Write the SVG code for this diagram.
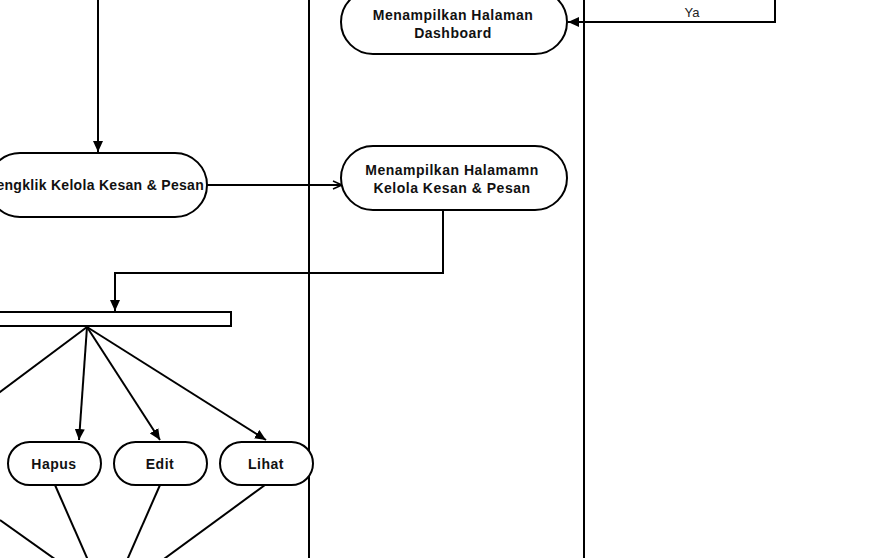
<svg xmlns="http://www.w3.org/2000/svg" width="894" height="558" viewBox="0 0 894 558">
<style>
.node{fill:#fff;stroke:#000;stroke-width:2}
.lane{stroke:#000;stroke-width:2;fill:none}
.edge{stroke:#000;stroke-width:2;fill:none}
.t{font-family:"Liberation Sans",Arial,sans-serif;font-weight:bold;font-size:14px;letter-spacing:0.5px;text-anchor:middle;fill:#111}
.lbl{font-family:"Liberation Sans",Arial,sans-serif;font-size:13px;text-anchor:middle;fill:#222}
</style>
<defs>
<marker id="arr" markerWidth="12" markerHeight="10" refX="11" refY="5" orient="auto" markerUnits="userSpaceOnUse">
<path d="M0,0 L11,5 L0,10 Z" fill="#000"/>
</marker>
<marker id="open" markerWidth="12" markerHeight="10" refX="10" refY="5" orient="auto" markerUnits="userSpaceOnUse">
<path d="M1,1 L10,5 L1,9" fill="none" stroke="#000" stroke-width="1.5"/>
</marker>
</defs>
<rect width="894" height="558" fill="#fff"/>
<g id="lanes">
<line class="lane" x1="309" y1="0" x2="309" y2="558"/>
<line class="lane" x1="584" y1="0" x2="584" y2="558"/>
</g>
<g id="connectors">
<polyline class="edge" points="775,0 775,22 568,22" marker-end="url(#arr)"/>
<line class="edge" x1="98" y1="0" x2="98" y2="152" marker-end="url(#arr)"/>
<line class="edge" x1="207" y1="185" x2="342" y2="185" marker-end="url(#open)"/>
<polyline class="edge" points="443,210 443,273 115,273 115,311" marker-end="url(#arr)"/>
<line class="edge" x1="87" y1="327" x2="-20" y2="407"/>
<line class="edge" x1="87" y1="327" x2="79" y2="440" marker-end="url(#arr)"/>
<line class="edge" x1="87" y1="327" x2="160" y2="440" marker-end="url(#arr)"/>
<line class="edge" x1="87" y1="327" x2="266" y2="440" marker-end="url(#arr)"/>
<line class="edge" x1="55" y1="485" x2="91" y2="567"/>
<line class="edge" x1="160" y1="485" x2="124" y2="567"/>
<line class="edge" x1="265" y1="485" x2="153" y2="567"/>
<line class="edge" x1="0" y1="520" x2="66" y2="567"/>
<text class="lbl" x="692" y="17">Ya</text>
</g>
<g id="n-dashboard">
<rect class="node" x="341" y="-10" width="226" height="64" rx="32"/>
<text class="t" x="453" y="20">Menampilkan Halaman</text>
<text class="t" x="453" y="38">Dashboard</text>
</g>
<g id="n-klik">
<rect class="node" x="-12" y="153" width="219" height="64" rx="32"/>
<text class="t" x="204" y="190" style="text-anchor:end;letter-spacing:0.3px">Mengklik Kelola Kesan &amp; Pesan</text>
</g>
<g id="n-halaman">
<rect class="node" x="341" y="146" width="226" height="64" rx="32"/>
<text class="t" x="452" y="175">Menampilkan Halamamn</text>
<text class="t" x="452" y="193">Kelola Kesan &amp; Pesan</text>
</g>
<g id="n-fork">
<rect class="node" x="-2" y="312" width="233" height="14"/>
</g>
<g id="n-hapus">
<rect class="node" x="8" y="442" width="93" height="43" rx="21.5"/>
<text class="t" x="54" y="469">Hapus</text>
</g>
<g id="n-edit">
<rect class="node" x="114" y="442" width="93" height="43" rx="21.5"/>
<text class="t" x="160" y="469">Edit</text>
</g>
<g id="n-lihat">
<rect class="node" x="220" y="442" width="93" height="43" rx="21.5"/>
<text class="t" x="266" y="469">Lihat</text>
</g>
</svg>
